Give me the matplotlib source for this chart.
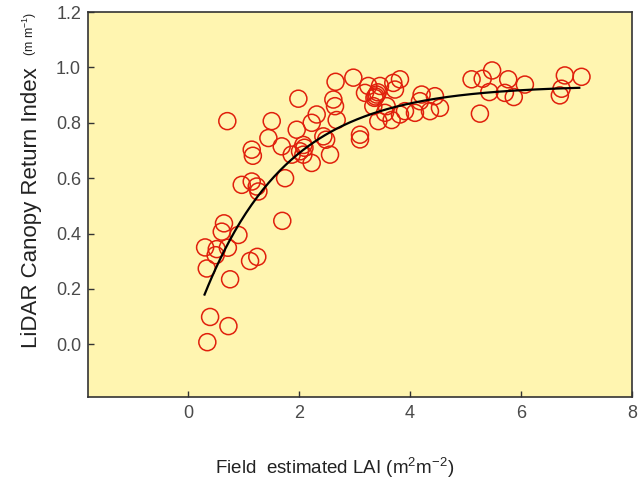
import numpy as np
import matplotlib
matplotlib.use("Agg")
import matplotlib.pyplot as plt

plt.rcParams['font.family'] = ['Liberation Sans', 'DejaVu Sans']
plt.rcParams['mathtext.fontset'] = 'custom'
plt.rcParams['mathtext.rm'] = 'Liberation Sans'

# field LAI vs LiDAR canopy return index
lai = [0.35, 0.40, 0.73, 0.34, 0.31, 0.50, 0.52, 0.72, 0.76, 0.65,
       0.61, 0.91, 1.12, 1.25, 0.97, 1.15, 1.24, 1.27, 1.70, 1.75,
       0.71, 1.15, 1.17, 1.45, 1.51, 1.69, 1.87, 1.96, 1.99, 2.08,
       2.02, 2.08, 2.10, 2.23, 2.23, 2.32, 2.44, 2.49, 2.56, 2.62,
       2.65, 2.66, 2.68, 2.98, 3.10, 3.10, 3.19, 3.25, 3.34, 3.40,
       3.38, 3.42, 3.36, 3.43, 3.46, 3.55, 3.58, 3.67, 3.70, 3.73,
       3.82, 3.82, 3.91, 4.09, 4.18, 4.21, 4.36, 4.45, 4.54, 5.11,
       5.26, 5.31, 5.43, 5.48, 5.71, 5.77, 5.87, 6.07, 6.70, 6.73,
       6.79, 7.09]
cri = [0.008, 0.099, 0.066, 0.274, 0.350, 0.322, 0.344, 0.349, 0.235, 0.437,
       0.407, 0.395, 0.301, 0.316, 0.576, 0.588, 0.570, 0.552, 0.446, 0.600,
       0.806, 0.703, 0.681, 0.745, 0.806, 0.715, 0.685, 0.775, 0.887, 0.720,
       0.697, 0.685, 0.710, 0.655, 0.800, 0.830, 0.751, 0.739, 0.685, 0.884,
       0.860, 0.948, 0.810, 0.963, 0.757, 0.740, 0.908, 0.933, 0.860, 0.902,
       0.895, 0.910, 0.890, 0.806, 0.933, 0.836, 0.860, 0.810, 0.944, 0.920,
       0.957, 0.830, 0.842, 0.836, 0.878, 0.902, 0.842, 0.896, 0.854, 0.957,
       0.833, 0.959, 0.911, 0.989, 0.908, 0.957, 0.893, 0.938, 0.899, 0.923,
       0.971, 0.966]

# exponential fit y = a - b*exp(-k*x), drawn over the data range
fit_a, fit_b, fit_k = 0.935, 0.921, 0.662
fit_x0, fit_x1 = 0.30, 7.05

fig = plt.figure(figsize=(6.44, 4.86), dpi=100)
ax = fig.add_axes([0.1366, 0.1831, 0.8448, 0.7922])
ax.set_facecolor('#fff5b0')

ax.scatter(lai, cri, s=150, facecolors='none', edgecolors='#e0200c', linewidths=1.1, zorder=2)

xf = np.linspace(fit_x0, fit_x1, 200)
ax.plot(xf, fit_a - fit_b * np.exp(-fit_k * xf), color='black', lw=1.6, zorder=3)

ax.set_xlim(-1.8, 8)
ax.set_ylim(-0.19, 1.2)
ax.set_xticks([0, 2, 4, 6, 8])
ax.set_yticks([0.0, 0.2, 0.4, 0.6, 0.8, 1.0, 1.2])
ax.set_yticklabels(['0.0', '0.2', '0.4', '0.6', '0.8', '1.0', '1.2'])
ax.tick_params(direction='in', length=4, width=1, colors='#333333', labelcolor='#4a4a4a', labelsize=13)
ax.tick_params(axis='x', pad=6)
ax.tick_params(axis='y', pad=5)
for sp in ax.spines.values():
    sp.set_color('#333333')
    sp.set_linewidth(1.2)

fig.text(0.52, 1 - 468 / 486, r'Field  estimated LAI (m$^\mathregular{2}$m$^\mathregular{-2}$)',
         ha='center', va='center', fontsize=13.5, color='#222222')
fig.text(31 / 644, 1 - 348 / 486, 'LiDAR Canopy Return Index', rotation=90, rotation_mode='anchor',
         ha='left', va='center', fontsize=16, color='#222222')
fig.text(30 / 644, 1 - 56 / 486, r'(m m$^\mathregular{-1}$)', rotation=90, rotation_mode='anchor',
         ha='left', va='center', fontsize=9, color='#222222')

fig.savefig('out.png', dpi=100)
